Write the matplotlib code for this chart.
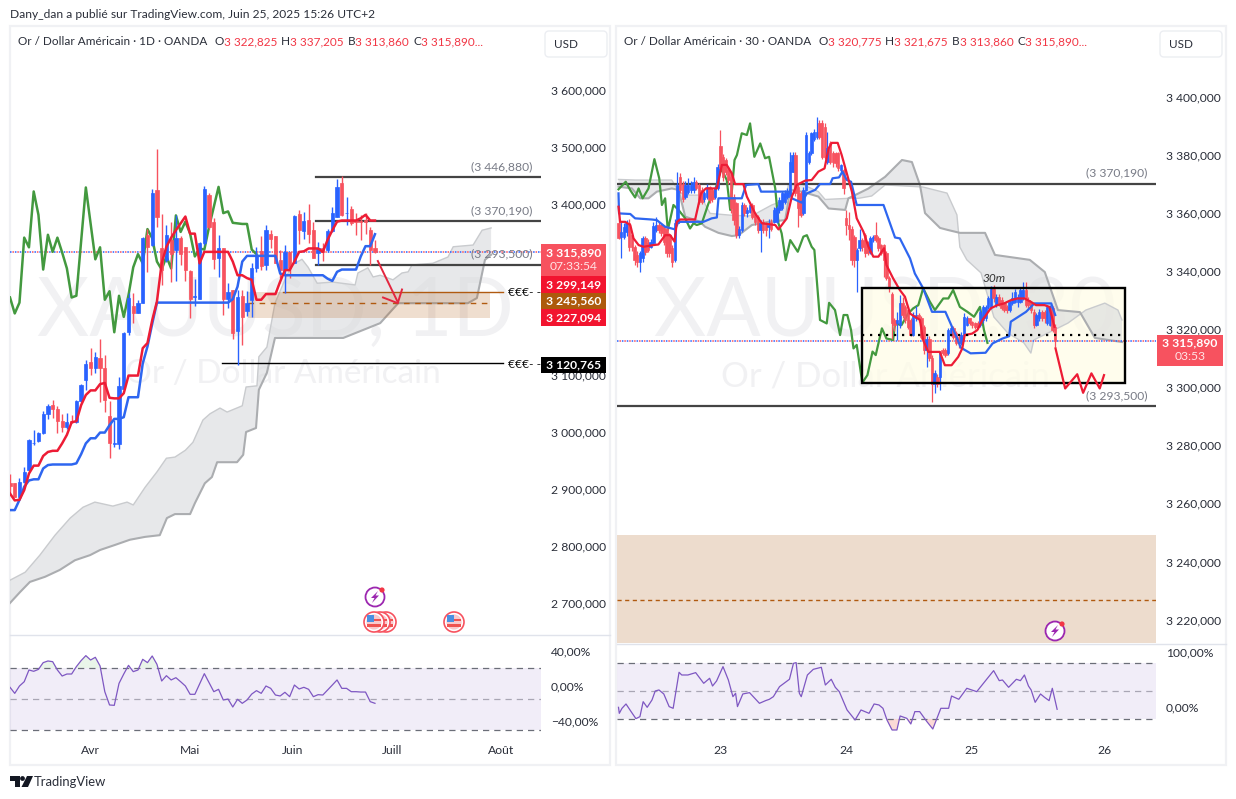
#!/usr/bin/env python3
"""TradingView style two panel gold chart (daily and 30 minutes) with ichimoku lines and RSI panes."""

import numpy as np
import matplotlib
matplotlib.use("Agg")
import matplotlib.pyplot as plt
from matplotlib.patches import Circle, FancyBboxPatch, Polygon, Rectangle

plt.rcParams["font.family"] = ["Lato", "DejaVu Sans"]

W, H = 1236, 799

# ----- daily panel -----
d_open = [2910, 2910, 2886, 2913, 2933, 2980, 2985, 2998, 3031, 3047,
          3041, 3020, 3008, 3019, 3017, 3054, 3091, 3122, 3112, 3129,
          3112, 3028, 2979, 2979, 3076, 3175, 3221, 3209, 3227, 3345,
          3328, 3424, 3322, 3302, 3337, 3320, 3341, 3325, 3283, 3237,
          3234, 3331, 3415, 3369, 3306, 3322, 3234, 3249, 3177, 3239,
          3212, 3232, 3288, 3317, 3293, 3348, 3344, 3302, 3285, 3316,
          3297, 3382, 3353, 3372, 3354, 3314, 3322, 3319, 3352, 3378,
          3436, 3384, 3392, 3370, 3370, 3372, 3355, 3322.825]
d_close = [2905, 2886, 2913, 2930, 2986, 2981, 2998, 3031, 3045, 3041,
           3020, 3009, 3017, 3017, 3054, 3082, 3120, 3112, 3131, 3112,
           3057, 2980, 2981, 3080, 3174, 3235, 3208, 3227, 3340, 3324,
           3420, 3377, 3285, 3345, 3313, 3341, 3313, 3285, 3234, 3238,
           3331, 3427, 3360, 3303, 3322, 3233, 3246, 3174, 3237, 3202,
           3227, 3287, 3308, 3291, 3355, 3339, 3297, 3285, 3315, 3287,
           3379, 3354, 3370, 3347, 3306, 3322, 3316, 3352, 3385, 3429,
           3381, 3385, 3367, 3368, 3368, 3368, 3319, 3315.89]
d_high = [2927, 2910, 2920, 2939, 2988, 3003, 3000, 3036, 3049, 3056,
          3045, 3031, 3033, 3030, 3056, 3084, 3126, 3147, 3141, 3164,
          3135, 3055, 3021, 3097, 3176, 3243, 3243, 3232, 3342, 3357,
          3427, 3496, 3383, 3364, 3368, 3380, 3343, 3325, 3284, 3268,
          3334, 3431, 3419, 3375, 3345, 3322, 3262, 3249, 3250, 3249,
          3247, 3296, 3324, 3343, 3363, 3354, 3344, 3319, 3328, 3316,
          3381, 3389, 3386, 3400, 3369, 3334, 3331, 3357, 3395, 3443,
          3449, 3413, 3396, 3385, 3381, 3384, 3360, 3337.205]
d_low = [2889, 2886, 2885, 2910, 2932, 2977, 2982, 2997, 3022, 3024,
         2998, 3000, 3006, 3016, 3016, 3052, 3074, 3100, 3103, 3053,
         3035, 2955, 2974, 2970, 3075, 3170, 3192, 3208, 3226, 3281,
         3326, 3360, 3258, 3299, 3264, 3265, 3293, 3265, 3200, 3221,
         3234, 3328, 3357, 3286, 3272, 3205, 3217, 3164, 3118, 3153,
         3203, 3202, 3281, 3284, 3284, 3322, 3296, 3270, 3243, 3270,
         3297, 3330, 3338, 3331, 3306, 3293, 3300, 3316, 3351, 3377,
         3379, 3363, 3363, 3345, 3337, 3348, 3293, 3313.86]

d_tenkan = [2892, 2880, 2881, 2898, 2927, 2941, 2941, 2958, 2965, 2967,
            2967, 2980, 2995, 3017, 3019, 3047, 3065, 3073, 3073, 3084,
            3086, 3060, 3059, 3059, 3068, 3099, 3099, 3099, 3147, 3156,
            3196, 3229, 3296, 3325, 3341, 3354, 3366, 3378, 3348, 3348,
            3296, 3316, 3316, 3316, 3316, 3316, 3316, 3299, 3275, 3275,
            3270, 3267, 3232, 3232, 3242, 3242, 3242, 3264, 3284, 3284,
            3299, 3316, 3317, 3322, 3322, 3322, 3316, 3337, 3354, 3369,
            3371, 3371, 3371, 3371, 3375, 3381, 3371, 3371]
d_kijun = [2863, 2863, 2881, 2904, 2915, 2917, 2917, 2936, 2942, 2943,
           2943, 2943, 2943, 2943, 2945, 2961, 2980, 2989, 2989, 2999,
           2999, 3012, 3023, 3023, 3026, 3061, 3061, 3061, 3120, 3150,
           3190, 3227, 3227, 3227, 3227, 3227, 3227, 3227, 3227, 3227,
           3227, 3227, 3227, 3227, 3227, 3227, 3227, 3233, 3255, 3299,
           3309, 3309, 3309, 3309, 3309, 3309, 3309, 3278, 3275, 3275,
           3275, 3275, 3275, 3275, 3275, 3275, 3275, 3269, 3265, 3281,
           3285, 3285, 3285, 3285, 3308, 3326, 3326, 3347]
d_chikou = [3236, 3208, 3227, 3341, 3324, 3422, 3381, 3285, 3346, 3316,
            3341, 3315, 3287, 3236, 3239, 3334, 3429, 3366, 3303, 3324,
            3232, 3247, 3175, 3239, 3202, 3240, 3289, 3312, 3296, 3356,
            3340, 3299, 3285, 3308, 3287, 3380, 3351, 3369, 3348, 3308,
            3322, 3320, 3360, 3395, 3430, 3384, 3387, 3367, 3366, 3365,
            3365, 3320, 3312]
d_rsi = [-1.5, -8.4, 0, 4.9, 18.3, 16.8, 19, 26.7, 28.6, 27.8,
         18.3, 11.4, 13.7, 13.7, 22.1, 29, 34.7, 29.7, 32.8, 22.9,
         -6.5, -21.7, -22.1, 3, 13.7, 23.6, 16.4, 18.3, 30.5, 26.7,
         34.3, 24.8, 5.7, 11.8, 6.9, 9.5, 4.9, 0, -9.5, -9.5,
         2.3, 14.1, 3.8, -6.5, -3.8, -16, -14.9, -24, -15.2, -19.8,
         -16, -9.2, -5.3, -8.4, 0, -2.7, -10.3, -11.4, -7.2, -12.2,
         1.1, -3.4, -1.5, -3.8, -12.2, -9.9, -10.3, -4.6, 1.1, 6.9,
         -2.7, -2.7, -6.5, -6.5, -6.9, -6.9, -17.9, -19.8]

d_cloud_top_x = [0, 3.2, 6.3, 9.5, 12.7, 15.4, 17.9, 19, 21.7, 24.7, 26, 28.5, 31, 33, 34.8, 37, 38.6,
                 40.7, 42.2, 44.3, 45.8, 49, 49.8, 52.1, 52.5, 54.2, 55.9, 58, 59.5, 61.6, 62.9, 64.8,
                 68.1, 72.8, 73.4, 75.5, 76.6, 78.1, 80.8, 82.7, 84, 84.8, 89.2, 92.4, 93.5, 97.7, 99.6, 101.5]
d_cloud_top = [2740, 2754, 2784, 2819, 2849, 2868, 2877, 2875, 2870, 2877, 2872, 2903, 2930, 2954, 2956, 2968, 2982,
               3021, 3032, 3042, 3035, 3046, 3079, 3081, 3132, 3149, 3226, 3267, 3293, 3303, 3289, 3261,
               3263, 3258, 3279, 3288, 3272, 3275, 3267, 3279, 3281, 3293, 3296, 3307, 3325, 3328, 3354, 3358]
d_cloud_low_x = [0, 2.1, 4.2, 7.4, 10.5, 13.7, 16.9, 19, 22.2, 25.3, 28.5, 31.6, 33.1, 34.8, 38, 39, 41.1,
                 42.6, 43.7, 47.9, 49.2, 49.8, 51.9, 52.5, 54.2, 55.9, 70.3, 78.1, 81.9, 96.6, 98.5, 100.2, 101.5]
d_cloud_low = [2700, 2719, 2737, 2746, 2758, 2775, 2784, 2793, 2802, 2811, 2816, 2819, 2849, 2856, 2856, 2875, 2910,
               2921, 2947, 2947, 2960, 3000, 3007, 3074, 3104, 3165, 3165, 3191, 3226, 3226, 3235, 3302, 3311]

d_arrow_x = [77.6, 81.8]
d_arrow_y = [3300, 3228]
d_arrow_head_x = [78.7, 81.8, 82.7]
d_arrow_head_y = [3236, 3226, 3250]

d_price_ticks = [3600, 3500, 3400, 3100, 3000, 2900, 2800, 2700]
d_rsi_ticks = [40, 0, -40]
d_rsi_bands = [20.6, -14.9, -50.3]
d_month_pos = [16.9, 38, 59.7, 80.6, 103.6]
d_month_labels = ["Avr", "Mai", "Juin", "Juill", "Août"]
d_levels = [3446.88, 3370.19, 3293.5]
d_level_labels = ["(3 446,880)", "(3 370,190)", "(3 293,500)"]

# ----- 30 minute panel, prices above 3000 -----
m_open = 3000 + np.array([
    356.5, 351.9, 351.9, 353.6, 356.5, 352.4, 348.4, 345.6, 343.3, 344.4,
    351.3, 349.6, 348.4, 349.8, 354.2, 355.9, 355.9, 355.3, 354.7, 352.4,
    347.9, 343.8, 356.5, 372.5, 370.2, 365.7, 367.4, 367.9, 367.9, 370.8,
    369.7, 367.9, 365, 365.7, 368.9, 367.9, 365.7, 368.5, 383.1, 379.4,
    378.3, 374.8, 372.5, 365.7, 363.4, 352.4, 354.2, 362.8, 359.9, 360.5,
    362.8, 359.3, 358.8, 354.2, 357, 356.5, 355.3, 357, 357, 357,
    361.1, 361.6, 363.9, 365.7, 366.8, 374.3, 380, 369.1, 366.8, 359.9,
    367.9, 377.7, 380.6, 385.7, 386.3, 390.9, 390.9, 389.8, 377.7, 384,
    380.6, 380.6, 380.6, 374.8, 374.8, 358.2, 355.9, 354.7, 351.9, 343.8,
    347.9, 350.7, 352.4, 349.6, 346.7, 351.3, 352.4, 351.3, 349, 349,
    346.1, 337.5, 332.3, 323.2, 322, 321.4, 328.9, 327.7, 326.6, 323.2,
    318, 323.7, 324.9, 323.7, 320.9, 312.8, 316.8, 310, 301.3, 303.6,
    303.6, 312.8, 312.8, 311.7, 318, 320.3, 318.6, 317.4, 315.1, 318,
    321.4, 323.7, 322.6, 322, 322, 321.4, 323.1, 323.7, 327.7, 327.7,
    334, 328.3, 331.2, 330, 328.9, 327.7, 326.6, 328.9, 329.5, 329.5,
    329.5, 330.6, 333.5, 330, 328.9, 326, 321.4, 323.7, 326, 326,
    322, 321.4, 327.2, 320.775])
m_close = 3000 + np.array([
    351.3, 353.6, 355.3, 356.5, 348.4, 348.4, 343.8, 343.3, 346.1, 351.3,
    346.7, 347.3, 350.2, 355.5, 355.9, 354.2, 353, 350.2, 346.1, 346.1,
    343.3, 356.5, 369.7, 367.9, 365, 369.7, 369.7, 369.7, 370.8, 368.5,
    364.5, 363.9, 366.8, 368.9, 364.5, 365, 368.5, 376, 375.4, 372.5,
    374.3, 371.4, 361.6, 357.6, 352.4, 354.7, 362.8, 359.9, 361.1, 362.8,
    358.8, 357, 354.2, 356.5, 354.2, 354.2, 355.9, 354.7, 361.1, 361.6,
    364.5, 366.8, 366.8, 367.4, 377.7, 380, 366.8, 361.6, 359.3, 367.9,
    386.9, 380.6, 387.5, 388, 388, 386.3, 379.4, 379.4, 382.3, 377.7,
    377.7, 377.1, 375.4, 376.5, 368.5, 355.9, 354.7, 343.8, 343.8, 347.3,
    350.7, 348.4, 346.1, 346.1, 351.3, 351.9, 350.7, 347.9, 346.1, 343.8,
    337.5, 334.1, 322, 321.4, 323.2, 328.9, 324.9, 323.2, 320.9, 318,
    324.9, 324.9, 323.7, 317.4, 312.8, 316.8, 310, 301.3, 304.8, 301.3,
    311.7, 311.7, 311.1, 319.7, 320.3, 317.4, 315.1, 315.1, 318, 324.3,
    323.7, 322, 321.4, 320.8, 320.8, 326, 327.7, 327.7, 330.6, 334,
    330.6, 331.2, 328.9, 327.2, 326.6, 326.6, 329.5, 330.6, 332.9, 331.2,
    333.5, 333.5, 328.3, 328.3, 326.6, 321.4, 324.9, 326, 323.7, 323.7,
    327.7, 327.7, 319.7, 315.89])
m_high = 3000 + np.array([
    362.2, 357, 356.5, 357.5, 358, 353, 349, 347, 347, 352,
    352, 351, 351, 357, 358.5, 357, 356.5, 356, 355.5, 353,
    349, 358, 374.3, 373.7, 371, 371, 372, 371, 372.5, 371.5,
    370.5, 369, 367.5, 370, 369.5, 368.5, 369.5, 377, 388.6, 380.5,
    379, 376, 373.5, 366.5, 364, 355.5, 364, 363.5, 362, 364,
    363.5, 360, 359.5, 357.5, 358, 357, 358, 358, 362, 362.5,
    365.5, 367.5, 368, 368.5, 381.1, 381, 381, 370, 367.5, 369,
    388, 381.5, 388, 389, 393.2, 392, 392, 391, 388, 385,
    381.5, 381, 381, 377, 375.5, 361.1, 360.5, 355.5, 352.5, 348,
    354.7, 351.5, 353, 350.5, 352, 352.5, 357, 352, 349.5, 349.5,
    347, 338.5, 333, 324, 326, 331.8, 331, 328.5, 327.5, 324,
    326, 328, 325.5, 324.5, 321.5, 317.5, 317.5, 311, 306, 304.5,
    312.5, 313.5, 313.5, 320.5, 321, 321, 319.5, 318, 319, 325.5,
    324.5, 324, 323, 322.5, 323, 327, 328.5, 328.5, 331.5, 334.8,
    335.2, 332, 332, 331, 329.5, 328.5, 330, 333, 334, 332,
    334.5, 336.4, 336.3, 331, 329.5, 327, 325.5, 327, 326.5, 326.5,
    328.5, 328.5, 328, 321.675])
m_low = 3000 + np.array([
    351, 344.4, 351, 352, 347, 347, 342.1, 341.5, 339.8, 343,
    345.5, 346.5, 348, 349, 353.5, 353, 352, 349, 345, 345,
    341.5, 343, 356, 367, 364, 365, 366.5, 367, 367, 368,
    363, 363, 364, 365, 363.5, 364, 365, 368, 374.5, 371,
    373, 370, 360, 356, 351.5, 351.5, 353.5, 359, 358.5, 360,
    358, 356, 353, 346.7, 353, 352, 351.3, 354, 356.5, 356.5,
    360, 361, 363, 365, 366, 374, 366, 355.3, 358.5, 359.5,
    367.5, 377, 380, 385, 385.5, 385.5, 378.5, 378.5, 377, 377,
    376, 376, 374.5, 374, 366.5, 352.4, 350.7, 342, 341.5, 332.9,
    347, 347, 345, 345.5, 346, 350, 350, 347, 345.5, 338,
    337, 333, 316.8, 319.5, 316.3, 320.5, 324, 322, 320, 317.5,
    317.5, 323, 322.5, 316.5, 311.5, 307.1, 309, 295, 297.9, 300,
    299, 311, 310.5, 311, 317.5, 316.5, 314.5, 313.5, 314.5, 317.5,
    321, 321.5, 320.5, 320, 320, 320.8, 322, 323, 327, 327,
    329.5, 327.5, 328, 326.5, 326, 325.5, 326, 328.5, 329, 327.5,
    329, 330, 327.5, 327, 325.5, 320.5, 321, 323, 323, 322,
    321.5, 321, 319, 313.86])

m_chikou_x = [0, 2.7, 4.4, 6.2, 7.5, 9, 11.2, 13.4, 15.2, 16.2, 17.4, 18.4, 20.5, 22.4, 24.9, 26.7, 28, 29.2,
              31.1, 33.6, 36.1, 38.3, 40.4, 41.7, 43.3, 44.2, 46, 47.9, 49.1, 50.7, 52.9, 54.7, 56.2, 58.5,
              59.7, 60.9, 62.4, 64.1, 66.9, 69, 70.3, 72.1, 73.1, 75.2, 77.7, 78.6, 80.8, 82.7, 84, 85.4,
              86.8, 87.7, 88.9, 91, 92.9, 94.8, 96, 98.3, 100, 102.5, 103.2, 105.6, 108.1, 110, 111.9,
              113.7, 116.2, 118.1, 121.2, 123.1, 124.9, 127.4, 130.2, 132.7, 134.9, 136.4, 137.7]
m_chikou = 3000 + np.array([
    368.2, 370.8, 367.9, 365.4, 368.5, 365.1, 368.5, 378.6, 372, 362.8, 365.1, 354.2, 362.8, 361.1, 358.2, 354.7,
    356.5, 355.9, 356.5, 363.4, 367.9, 375.4, 371.4, 361.1, 378.3, 380, 387.5, 386.9, 390.9, 379.4, 384, 378.9,
    379.4, 368.5, 356.5, 353, 343.8, 350.7, 346.7, 351.9, 352.4, 348.4, 347.3, 323.2, 322, 329.1, 326.6, 318,
    324.9, 324.9, 319.7, 313.4, 314.6, 301.6, 304.2, 312.3, 311.1, 320.3, 316.8, 316.3, 322, 321.4, 325.4,
    327.2, 328.3, 334.1, 329.5, 326.6, 330.6, 330.6, 333.5, 327.7, 326, 324.3, 327.7, 319.7, 315.3])

m_tenkan_x = [0, 0.6, 2.5, 4.4, 5.6, 7.5, 9.3, 11.2, 13.1, 14.9, 17.4, 19.3, 20.9, 21.8, 23, 28.6, 30.8, 32.6,
              36.7, 38.6, 40.4, 42.3, 43.5, 46.6, 47.9, 51, 53.5, 58.5, 59.7, 62.8, 64.7, 66.5, 69.7, 72.1,
              74.6, 76.9, 78.4, 79.6, 81.8, 83.3, 85.2, 87.1, 88.9, 91.4, 93.3, 95.1, 97, 99.1, 100, 102.5,
              105, 106.9, 108.8, 110.6, 112.5, 113.7, 115.6, 119.9, 121.8, 124.3, 126.8, 128.3, 129.2, 132,
              133.9, 135.8, 138.9, 141.4, 143.9, 146.4, 148.9, 151.5, 154, 155.8, 159, 160.8, 162.7]
m_tenkan = 3000 + np.array([
    362.2, 357, 357, 355.9, 351.3, 349, 348.4, 348.7, 349, 349.2, 352.4, 352.4, 350.2, 357, 357.8, 357.8, 366.8,
    368.5, 368.5, 376.6, 376.6, 373.7, 370, 370, 365.7, 359.9, 356.5, 355.9, 354.4, 358.2, 365.7, 369.7, 371.2,
    371.4, 374.3, 375.4, 382.3, 384.2, 384.2, 380, 373.7, 367.4, 358.2, 353.6, 348.4, 345, 345, 347.9, 342.1,
    337.5, 333.5, 331.2, 325.4, 324.3, 323.2, 316.3, 312.2, 312.2, 307.6, 307.6, 310.5, 313.4, 318, 318.5,
    319.7, 323.1, 327.2, 328.3, 328.9, 330, 330.6, 330.6, 329.4, 328.3, 328.3, 327.7, 320.8])

m_kijun_x = [0, 0.2, 4.4, 6.2, 12.4, 14.3, 17.4, 21.1, 22.1, 23, 31.7, 34.8, 36.7, 37.3, 46, 47.6, 52.2, 53.2,
             64.1, 64.7, 68.4, 70.3, 73.4, 75.2, 79, 79.9, 82.3, 83.6, 85.2, 86.8, 88.9, 98.9, 103.2, 105,
             108.8, 110.6, 113.7, 117, 122, 126.4, 127.7, 131.4, 137, 139.6, 143.3, 145.8, 146.4, 152.1,
             155.2, 161.5, 163]
m_kijun = 3000 + np.array([
    366.8, 359.9, 359.7, 358.2, 357.8, 357.6, 355.3, 354.4, 356.5, 357, 357, 358.2, 358.5, 365.1, 365.1, 369.7,
    370, 367.4, 367.4, 365.1, 363.6, 366.8, 368, 370, 370, 372, 372.3, 374.3, 371.4, 370.8, 362.8, 362.8, 351.6,
    351.3, 344.4, 339.2, 334.1, 326, 326, 316.8, 313.7, 311.7, 311.9, 315.1, 316.8, 317.6, 322.6, 326, 328.9,
    328.9, 324.9])

m_rsi_x = [0, 0.3, 1.3, 2.8, 4.7, 6.5, 8, 9.2, 10.7, 12.5, 13.7, 15.1, 16.9, 18.9, 20.4, 22.6, 23.6, 25.9, 28.8,
           31.8, 34, 35.1, 36.6, 39, 41, 42.7, 43.7, 44.4, 46.4, 48.9, 52.6, 54.9, 56.3, 57.8, 60.1, 63.8, 65.3,
           66.3, 67.5, 68.2, 70.5, 72.7, 75.7, 77.2, 79.4, 80.9, 82.4, 85.3, 88.3, 90.5, 93.5, 95.4, 97.2, 98.7,
           100.2, 102.1, 103.9, 105.1, 107.6, 109.1, 110.6, 112.4, 115.1, 117.3, 120.3, 123.2, 124.3, 127, 130,
           133.7, 137.4, 140, 142.1, 143.3, 145.6, 148.5, 150, 151.5, 153, 154, 155.5, 157.5, 159, 160.7, 161.9, 163.7]
m_rsi = [-0.6, -11.5, -2.4, 5.5, -8.4, -21.2, -17.5, 9.7, -0.6, 12.8, 29.1, 31, 23.7, 0.7, -2.4, 63.1, 58.2, 58.2,
         62.5, 43.1, 52.2, 38.2, 47.3, 73.4, 49.1, 18.8, 24.9, 0.7, 23.7, 26.1, 6.7, 11.6, 14, 18.8, 37, 50.4, 79.4,
         80.7, 24.9, 18.8, 58.2, 68.5, 72.2, 40, 50.4, 35.8, 27.9, -5.4, -23.6, -5.4, -11.5, 5.5, 3.7, -2.4, -23.6,
         -41.8, -41.8, -16.3, -20.6, -30.9, -8.4, -8.4, -26.6, -40, -2.4, -2.4, 20, 14, 34, 27.9, 50.4, 66.1, 47.9,
         49.1, 35.8, 50.4, 47.9, 58.2, 38.2, 31, 8.5, 23.7, 17.6, 11.6, 34, -4.2]

m_span_a_x = [0, 6.2, 19.9, 22.4, 24.9, 30.5, 34.2, 41.7, 48.5, 51, 57.2, 62.2, 63.4, 68.4, 74.6, 77.1, 85.8, 89.6,
              94.5, 99.5, 113.6, 122.6, 126.3, 127.4, 130, 135.3, 140.1, 145.3, 151.3, 153.9, 155, 167.7, 174.4,
              181.5, 186.4, 187.9]
m_span_a = 3000 + np.array([
    371.6, 371.4, 371.4, 367.4, 366.2, 366.2, 359.9, 359.3, 359, 359.7, 362.8, 364.5, 369.7, 370, 367.4, 364.7,
    365.1, 365.1, 365.9, 369.7, 369, 366.9, 359.4, 348.3, 343.9, 339.4, 324.2, 318.7, 315.3, 311.8, 316.3, 322.1,
    326.6, 329, 326.6, 323.2])
m_span_b_x = [0, 5, 8.1, 11.2, 14.3, 19.9, 22.4, 24.9, 30.5, 32.3, 37.3, 42.3, 44.8, 49.8, 56, 62.2, 64.1, 68.4,
              74.6, 78.4, 84.6, 85.8, 89.6, 93.3, 99.5, 105.8, 109.5, 112.5, 114.4, 120, 122.9, 127.4, 136.8, 140.5,
              153.5, 159.1, 164, 172.2, 177.8, 187.9]
m_span_b = 3000 + np.array([
    369.1, 368.5, 365.1, 365.1, 367.4, 368.5, 368, 358.8, 357, 355.3, 353.2, 352.1, 352.4, 355.9, 357, 357.6, 368,
    367.4, 365.7, 361.6, 361.1, 365.1, 366.8, 368.5, 372.5, 378.3, 377.6, 369.7, 360, 354.9, 354.2, 353.2, 353.2,
    345.6, 343.9, 339.7, 326.6, 325.9, 317, 315.6])

m_path_x = [163.1, 166.7, 171.2, 173.4, 176.5, 179.6, 181.2]
m_path_y = [3313.4, 3299.6, 3304.5, 3298.1, 3304.8, 3299.6, 3304.2]

m_price_ticks = [3400, 3380, 3360, 3340, 3320, 3300, 3280, 3260, 3240, 3220]
m_rsi_ticks = [100, 0]
m_rsi_bands = [80, 29.1, -21.8]
m_day_pos = [37.9, 84.9, 131.9, 181.5]
m_day_labels = ["23", "24", "25", "26"]
m_levels = [3370.19, 3293.5]
m_level_labels = ["(3 370,190)", "(3 293,500)"]

last_price = 3315.89

BLUE = "#2962ff"
RED = "#f7525f"
TENKAN = "#ed1c35"
KIJUN = "#2e66f0"
GREEN = "#43993f"
TEXT = "#2a2e39"
GREY_TXT = "#787b86"
BROWN = "#b05a10"
RSI = "#7e57c2"

fig = plt.figure(figsize=(W / 100, H / 100), dpi=100, facecolor="white")


def pane(x0, y0, x1, y1):
    # axes from a pixel box, y measured from the top of the image
    ax = fig.add_axes([x0 / W, 1 - y1 / H, (x1 - x0) / W, (y1 - y0) / H])
    ax.set_facecolor("none")
    for s in ax.spines.values():
        s.set_visible(False)
    ax.yaxis.tick_right()
    ax.tick_params(axis="both", length=0, colors=TEXT, labelsize=8.7)
    ax.tick_params(axis="y", pad=7.2)
    ax.set_xticks([])
    return ax


def fr_price(v):
    s = f"{v:,.3f}"
    return s.replace(",", " ").replace(".", ",")


def candles(ax, o, c, h, l, width, wick):
    o, c = np.array(o, float), np.array(c, float)
    x = np.arange(len(o))
    cols = [BLUE if b >= a else RED for a, b in zip(o, c)]
    ax.vlines(x, l, h, colors=cols, linewidth=wick, zorder=4)
    ax.bar(x, np.abs(c - o), bottom=np.minimum(o, c), width=width, color=cols, linewidth=0.5, edgecolor=cols, zorder=4)


def cloud(ax, tx, ty, lx, ly):
    pts = np.column_stack([list(tx) + list(lx)[::-1], list(ty) + list(ly)[::-1]])
    ax.add_patch(Polygon(pts, closed=True, facecolor="#d8dadd", alpha=0.6, edgecolor="none", zorder=2))
    ax.plot(tx, ty, color="#c9cbce", lw=1.0, zorder=2.2)
    ax.plot(lx, ly, color="#abadb0", lw=1.5, zorder=2.2)


def price_dots(ax):
    ax.axhline(last_price, color=BLUE, lw=1.1, ls=(0, (1, 2.2)), zorder=3)
    ax.axhline(last_price, color=RED, lw=1.1, ls=(1.6, (1, 2.2)), zorder=3)


def rsi_pane(ax, x, y, bands):
    ax.axhspan(bands[2], bands[0], facecolor=RSI, alpha=0.1, lw=0, zorder=1)
    for b, col in zip(bands, ["#6b6e78", "#a9a6b4", "#6b6e78"]):
        ax.axhline(b, color=col, lw=0.9, ls=(0, (5, 4)), zorder=2)
    ax.plot(x, y, color=RSI, lw=0.9, zorder=3)
    xi, yi = np.array(x, float), np.array(y, float)
    ax.fill_between(xi, bands[0], yi, where=yi > bands[0], color="#4caf50", alpha=0.12, lw=0, interpolate=True)
    ax.fill_between(xi, bands[2], yi, where=yi < bands[2], color="#f44336", alpha=0.2, lw=0, interpolate=True)


# background layer: frames and title text
bg = fig.add_axes([0, 0, 1, 1], zorder=-5)
bg.set_xlim(0, W)
bg.set_ylim(H, 0)
bg.axis("off")
for x0, x1 in [(10, 610), (616, 1226)]:
    bg.add_patch(Rectangle((x0, 26), x1 - x0, 739, facecolor="white", edgecolor="#f0f1f4", lw=1.6))
bg.plot([10, 610], [635, 635], color="#e0e3eb", lw=1)
bg.plot([617, 1226], [644, 644], color="#e0e3eb", lw=1)
bg.text(10, 15, "Dany_dan a publié sur TradingView.com, Juin 25, 2025 15:26 UTC+2", fontsize=8.65, color=TEXT, va="center")
# watermarks
bg.text(275, 313, "XAUUSD, 1D", fontsize=58, color="#f1f1f3", ha="center", va="center")
bg.text(283, 374, "Or / Dollar Américain", fontsize=24, color="#f1f1f3", ha="center", va="center")
bg.text(885, 313, "XAUUSD, 30", fontsize=58, color="#f1f1f3", ha="center", va="center")
bg.text(885, 376, "Or / Dollar Américain", fontsize=25, color="#f1f1f3", ha="center", va="center")

# ----- daily price pane -----
a1 = pane(10, 31, 541, 635)
a1.set_xlim(0, (541 - 10) / 4.74)
a1.set_ylim(3600 - (635 - 90) / 0.57, 3600 + (90 - 31) / 0.57)
a1.set_yticks(d_price_ticks, [fr_price(v) for v in d_price_ticks])
cloud(a1, d_cloud_top_x, d_cloud_top, d_cloud_low_x, d_cloud_low)
a1.add_patch(Rectangle((50.2, 3200), 51.1, 45.56, facecolor=BROWN, alpha=0.2, lw=0, zorder=2.5))
a1.plot([57.6, 104], [3245.56, 3245.56], color=BROWN, lw=1, zorder=3)
a1.plot([50.2, 101.3], [3227.094, 3227.094], color=BROWN, lw=1, ls=(0, (4, 4)), zorder=3)
a1.plot([44.7, 104], [3120.765, 3120.765], color="black", lw=1, zorder=3)
price_dots(a1)
for v, lab in zip(d_levels, d_level_labels):
    a1.plot([64.6, 112], [v, v], color="#444444", lw=1.6, zorder=3)
    a1.text(110.3, v + 9, lab, fontsize=8.7, color=GREY_TXT, ha="right", va="bottom", zorder=6)
a1.plot(range(len(d_chikou)), d_chikou, color=GREEN, lw=1.8, zorder=3.5)
candles(a1, d_open, d_close, d_high, d_low, 0.68, 1.0)
a1.plot(range(len(d_kijun)), d_kijun, color=KIJUN, lw=1.8, zorder=5)
a1.plot(range(len(d_tenkan)), d_tenkan, color=TENKAN, lw=1.8, zorder=5)
a1.plot(d_arrow_x, d_arrow_y, color="#e3263f", lw=1.4, zorder=6)
a1.plot(d_arrow_head_x, d_arrow_head_y, color="#e3263f", lw=1.4, zorder=6)

# ----- daily RSI pane -----
a2 = pane(10, 636, 541, 735)
a2.set_xlim(0, (541 - 10) / 4.74)
a2.set_ylim((686 - 735) / 0.875, (686 - 636) / 0.875)
a2.set_yticks(d_rsi_ticks, ["40,00%", "0,00%", "−40,00%"])
a2.set_xticks(d_month_pos, d_month_labels)
a2.tick_params(axis="x", pad=7.0)
rsi_pane(a2, range(len(d_rsi)), d_rsi, d_rsi_bands)

# ----- 30 minute price pane -----
a3 = pane(617, 31, 1156, 643)
a3.set_xlim(-0.56, 200.6)
a3.set_ylim(3400 - (643 - 97) / 2.903, 3400 + (97 - 31) / 2.903)
a3.set_yticks(m_price_ticks, [fr_price(v) for v in m_price_ticks])
a3.axhspan(3200, 3249, facecolor="#eddccd", lw=0, zorder=1)
a3.axhline(3226.8, color=BROWN, lw=1, ls=(0, (3, 2.5)), zorder=2)
a3.add_patch(Rectangle((90.9, 3301.5), 98.1, 32.7, facecolor="#fffde7", alpha=0.75, edgecolor="none", zorder=1.5))
cloud(a3, m_span_a_x, m_span_a, m_span_b_x, m_span_b)
a3.add_patch(Rectangle((90.9, 3301.5), 98.1, 32.7, facecolor="none", edgecolor="black", lw=1.7, zorder=6))
a3.plot([90.9, 189], [3318, 3318], color="black", lw=1.6, ls=(0, (1, 2.6)), zorder=6)
price_dots(a3)
for v, lab, off in zip(m_levels, m_level_labels, (1.8, 1.8)):
    a3.axhline(v, color="#444444", lw=1.6, zorder=3)
    a3.text(197.5, v + off, lab, fontsize=8.7, color=GREY_TXT, ha="right", va="bottom", zorder=6)
a3.text(140, 3337.6, "30m", fontsize=8.6, style="italic", color="#333333", ha="center", va="center", zorder=7)
a3.plot(m_chikou_x, m_chikou, color=GREEN, lw=1.6, zorder=3.5)
candles(a3, m_open, m_close, m_high, m_low, 0.92, 0.9)
a3.plot(m_kijun_x, m_kijun, color=KIJUN, lw=1.6, zorder=5)
a3.plot(m_tenkan_x, m_tenkan, color=TENKAN, lw=1.6, zorder=5)
a3.plot(m_path_x, m_path_y, color=TENKAN, lw=1.6, zorder=6)

# ----- 30 minute RSI pane -----
a4 = pane(617, 644, 1156, 735)
a4.set_xlim(-0.56, 200.6)
a4.set_ylim((707 - 735) / 0.55, (707 - 644) / 0.55)
a4.set_yticks(m_rsi_ticks, ["100,00%", "0,00%"])
a4.set_xticks(m_day_pos, m_day_labels)
a4.tick_params(axis="x", pad=7.0)
rsi_pane(a4, m_rsi_x, m_rsi, m_rsi_bands)

# ----- top layer: legends, price tags, icons, logo -----
top = fig.add_axes([0, 0, 1, 1], zorder=20)
top.set_xlim(0, W)
top.set_ylim(H, 0)
top.axis("off")
top.patch.set_alpha(0)


def legend(x, name, vals):
    t = top.text(x, 41.5, name, fontsize=8.5, color=TEXT, va="center")
    fig.canvas.draw()
    x = t.get_window_extent().x1 + 7
    for k, v in zip("OHBC", vals):
        a = top.text(x, 41.5, k, fontsize=8.5, color=TEXT, va="center")
        x = a.get_window_extent().x1
        b = top.text(x, 41.5, v, fontsize=8.5, color="#f23645", va="center")
        x = b.get_window_extent().x1 + 4
    top.texts[-1].set_text(vals[-1] + "...")


legend(18, "Or / Dollar Américain · 1D · OANDA", ["3 322,825", "3 337,205", "3 313,860", "3 315,890"])
legend(624, "Or / Dollar Américain · 30 · OANDA", ["3 320,775", "3 321,675", "3 313,860", "3 315,890"])

for x0 in (545, 1160):
    top.add_patch(FancyBboxPatch((x0 + 2, 33), 58, 22, boxstyle="round,pad=2,rounding_size=4",
                                 facecolor="white", edgecolor="#eceef2", lw=1))
    top.text(x0 + 9, 44.5, "USD", fontsize=8.4, color=TEXT, va="center")


def tag(x0, x1, y0, y1, col, lines):
    top.add_patch(Rectangle((x0, y0), x1 - x0, y1 - y0, facecolor=col, lw=0))
    for txt, yy, tc in lines:
        top.text((x0 + x1) / 2, yy, txt, fontsize=8.7, color=tc, ha="center", va="center", weight="bold" if ":" not in txt else "normal")


tag(541, 606, 244, 276, RED, [("3 315,890", 253, "white"), ("07:33:54", 267, "#ffe3e5")])
tag(541, 606, 276, 293, "#f2142f", [("3 299,149", 284.5, "white")])
tag(541, 606, 293, 309, "#ad5a0c", [("3 245,560", 301, "white")])
tag(541, 606, 309, 326, "#f2142f", [("3 227,094", 317.5, "white")])
tag(541, 606, 357, 373, "black", [("3 120,765", 365, "white")])
tag(1157, 1223, 335, 366, RED, [("3 315,890", 343, "white"), ("03:53", 357, "#ffe3e5")])
for y in (293, 365):
    top.text(508, y, "€€€- -", fontsize=8.7, color="#111111", va="center")


def bolt(cx, cy):
    top.add_patch(Circle((cx, cy), 9.5, facecolor="white", edgecolor="#9c27b0", lw=1.3))
    top.add_patch(Polygon([(cx + 3, cy - 6), (cx - 4, cy + 1), (cx - 0.5, cy + 1), (cx - 3, cy + 6),
                           (cx + 4, cy - 1.5), (cx + 0.5, cy - 1.5)], closed=True, facecolor="#9c27b0", lw=0))
    top.add_patch(Circle((cx + 7, cy - 7), 2.6, facecolor="#f23645", lw=0))


def flag(cx, cy):
    top.add_patch(Circle((cx, cy), 10, facecolor="white", edgecolor="#f7525f", lw=1.2))
    top.add_patch(Circle((cx, cy), 7.6, facecolor="#f9c9cc", lw=0))
    top.add_patch(Rectangle((cx - 7, cy + 2), 14, 2.6, facecolor="#ef5350", lw=0))
    top.add_patch(Rectangle((cx - 7, cy - 3), 14, 2, facecolor="#ef5350", lw=0))
    top.add_patch(Rectangle((cx - 7, cy - 7), 7, 6.5, facecolor="#4a90e2", lw=0))


bolt(375, 597)
for cx in (386, 380, 374, 454):
    flag(cx, 622)
bolt(1055, 631)

# TradingView logo
top.add_patch(Polygon([(10, 776), (20, 776), (20, 787), (15, 787), (15, 781), (10, 781)], closed=True, facecolor="#131722", lw=0))
top.add_patch(Circle((22.5, 778.5), 2.4, facecolor="#131722", lw=0))
top.add_patch(Polygon([(27, 776), (33, 776), (28, 787), (21.5, 787)], closed=True, facecolor="#131722", lw=0))
top.text(34, 781.5, "TradingView", fontsize=9.4, color="#2a2e39", va="center")

fig.savefig("out.png", dpi=100, facecolor="white")
